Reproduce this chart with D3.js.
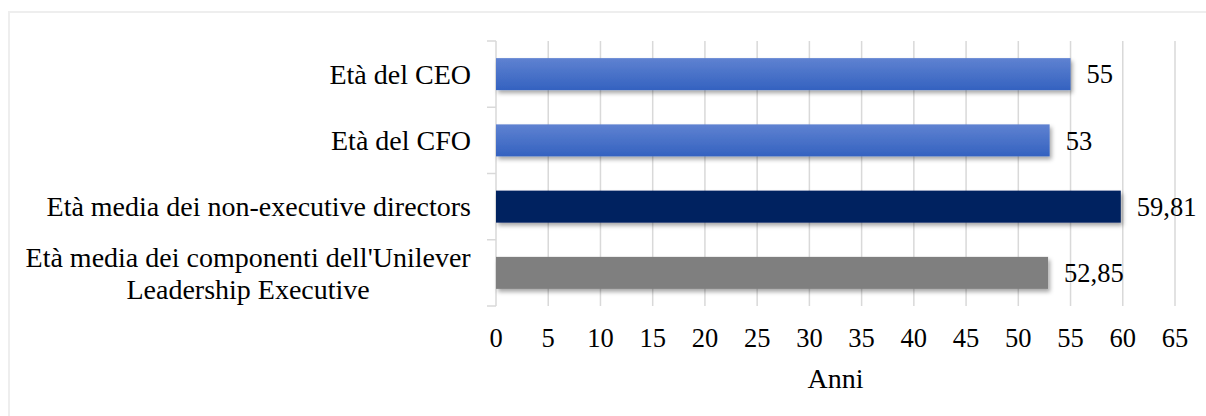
<!DOCTYPE html>
<html>
<head>
<meta charset="utf-8">
<script src="https://cdn.jsdelivr.net/npm/d3@7"></script>
<style>
  html, body { margin: 0; padding: 0; background: #fff; }
  svg { display: block; }
  text { font-family: "Liberation Serif", "Times New Roman", serif; fill: #000; }
</style>
</head>
<body>
<svg id="chart" width="1206" height="416"></svg>
<script>
// Category labels (split into display lines) and their values
const categories = [
  "Età del CEO",
  "Età del CFO",
  "Età media dei non-executive directors",
  "Età media dei componenti dell'Unilever Leadership Executive"
];
const categoryLines = [
  ["Età del CEO"],
  ["Età del CFO"],
  ["Età media dei non-executive directors"],
  ["Età media dei componenti dell'Unilever", "Leadership Executive"]
];
const values = [55, 53, 59.81, 52.85];
const barFills = ["url(#blueGrad)", "url(#blueGrad)", "#002060", "#7f7f7f"];
const xTicks = [0, 5, 10, 15, 20, 25, 30, 35, 40, 45, 50, 55, 60, 65];
const xTitle = "Anni";

const itLocale = d3.formatLocale({ decimal: ",", thousands: ".", grouping: [3], currency: ["€", ""] });
const fmt = v => Number.isInteger(v) ? String(v) : itLocale.format(".2f")(v);

const svg = d3.select("#chart");
const numSize = 26.5;
const textSize = 28;
const gridColor = "#d9d9d9";

// outer chart frame
svg.append("rect")
  .attr("x", 9).attr("y", 12).attr("width", 1206).attr("height", 416)
  .attr("fill", "none").attr("stroke", "#eeeeee").attr("stroke-width", 2);

const defs = svg.append("defs");
const grad = defs.append("linearGradient").attr("id", "blueGrad")
  .attr("x1", 0).attr("y1", 0).attr("x2", 0).attr("y2", 1);
grad.append("stop").attr("offset", "0%").attr("stop-color", "#5f82d1");
grad.append("stop").attr("offset", "100%").attr("stop-color", "#3462c0");

const shadow = defs.append("filter").attr("id", "barShadow")
  .attr("x", "-5%").attr("y", "-30%").attr("width", "115%").attr("height", "180%");
shadow.append("feDropShadow")
  .attr("dx", 2).attr("dy", 3).attr("stdDeviation", 2.2)
  .attr("flood-color", "#000").attr("flood-opacity", 0.35);

const x = d3.scaleLinear().domain([0, 65]).range([496, 1175]);
const y = d3.scaleBand().domain(categories).range([41, 306])
  .paddingInner(0.517).paddingOuter(0.2585);

// vertical gridlines
svg.append("g").selectAll("line").data(xTicks.filter(t => t > 0)).join("line")
  .attr("x1", d => x(d)).attr("x2", d => x(d))
  .attr("y1", 41).attr("y2", 306)
  .attr("stroke", gridColor).attr("stroke-width", 1.5);

// category axis line and tick marks between categories
const [y0, y1] = y.range();
svg.append("line")
  .attr("x1", x(0)).attr("x2", x(0)).attr("y1", y0).attr("y2", y1)
  .attr("stroke", gridColor).attr("stroke-width", 1.5);
const bounds = d3.range(categories.length + 1).map(i => y0 + i * y.step());
svg.append("g").selectAll("line").data(bounds).join("line")
  .attr("x1", x(0) - 9).attr("x2", x(0))
  .attr("y1", d => d).attr("y2", d => d)
  .attr("stroke", gridColor).attr("stroke-width", 1.5);

// bars
svg.append("g").selectAll("rect").data(categories).join("rect")
  .attr("x", x(0))
  .attr("y", d => y(d))
  .attr("width", (d, i) => x(values[i]) - x(0))
  .attr("height", y.bandwidth())
  .attr("fill", (d, i) => barFills[i])
  .attr("filter", "url(#barShadow)");

// value labels
svg.append("g").selectAll("text").data(categories).join("text")
  .attr("x", (d, i) => x(values[i]) + 16)
  .attr("y", d => y(d) + y.bandwidth() / 2)
  .attr("dy", "0.35em")
  .attr("font-size", numSize)
  .text((d, i) => fmt(values[i]));

// category labels (multi-line blocks centered on their own width, right-aligned to the axis)
const lineH = 32;
const catG = svg.append("g");
categories.forEach((c, i) => {
  const lines = categoryLines[i];
  const cy = y(c) + y.bandwidth() / 2;
  const t = catG.append("text").attr("font-size", textSize).attr("text-anchor", "middle");
  lines.forEach((ln, j) => {
    t.append("tspan").attr("x", 0)
      .attr("y", cy + (j - (lines.length - 1) / 2) * lineH)
      .attr("dy", "0.35em").text(ln);
  });
  const w = t.node().getBBox().width;
  t.attr("transform", `translate(${471 - w / 2},0)`);
});

// value axis tick labels
svg.append("g").selectAll("text").data(xTicks).join("text")
  .attr("x", d => x(d)).attr("y", 347)
  .attr("text-anchor", "middle").attr("font-size", numSize)
  .text(d => d);

// axis title
svg.append("text")
  .attr("x", (x(0) + x(65)) / 2).attr("y", 388)
  .attr("text-anchor", "middle").attr("font-size", textSize)
  .text(xTitle);
</script>
</body>
</html>
